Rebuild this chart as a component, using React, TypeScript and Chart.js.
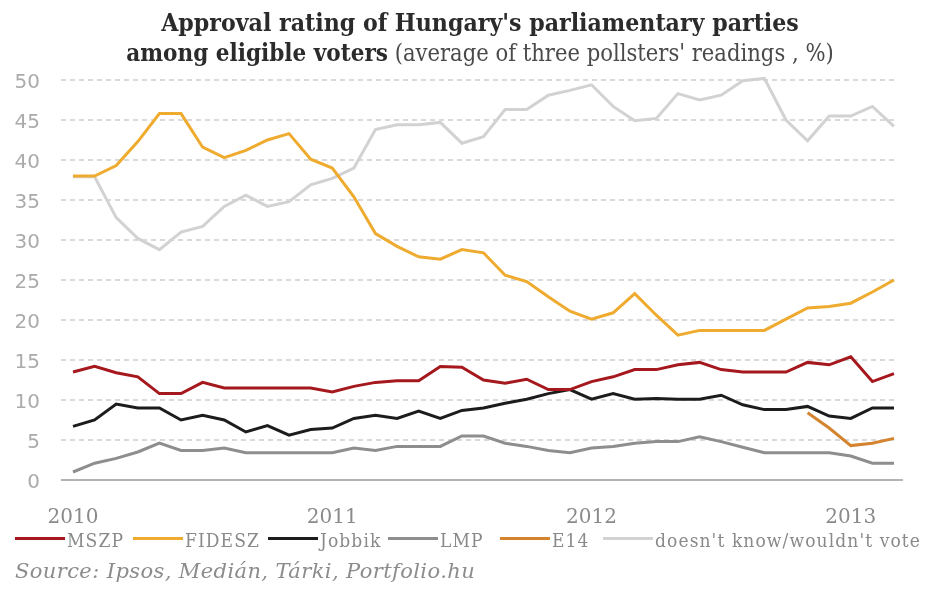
import React, { useEffect, useRef } from 'react';
import { Chart, registerables } from 'chart.js';

Chart.register(...registerables);

const months = [
  '2010-01', '2010-02', '2010-03', '2010-04', '2010-05', '2010-06', '2010-07', '2010-08', '2010-09', '2010-10', '2010-11', '2010-12',
  '2011-01', '2011-02', '2011-03', '2011-04', '2011-05', '2011-06', '2011-07', '2011-08', '2011-09', '2011-10', '2011-11', '2011-12',
  '2012-01', '2012-02', '2012-03', '2012-04', '2012-05', '2012-06', '2012-07', '2012-08', '2012-09', '2012-10', '2012-11', '2012-12',
  '2013-01', '2013-02', '2013-03',
];

const yearTickMonths = ['2010-01', '2011-01', '2012-01', '2013-01'];
const yearTickLabels = ['2010', '2011', '2012', '2013'];
const yTicks = [0, 5, 10, 15, 20, 25, 30, 35, 40, 45, 50];

const mszp = [
  13.5, 14.2, 13.4, 12.9, 10.8, 10.8, 12.2, 11.5, 11.5, 11.5, 11.5, 11.5,
  11.0, 11.7, 12.2, 12.4, 12.4, 14.2, 14.1, 12.5, 12.1, 12.6, 11.3, 11.3,
  12.3, 12.9, 13.8, 13.8, 14.4, 14.7, 13.8, 13.5, 13.5, 13.5, 14.7, 14.4,
  15.4, 12.3, 13.3,
];
const fidesz = [
  38.0, 38.0, 39.3, 42.3, 45.8, 45.8, 41.6, 40.3, 41.2, 42.5, 43.3, 40.1,
  39.0, 35.4, 30.8, 29.2, 27.9, 27.6, 28.8, 28.4, 25.6, 24.8, 22.9, 21.1,
  20.1, 20.9, 23.3, 20.6, 18.1, 18.7, 18.7, 18.7, 18.7, 20.1, 21.5, 21.7,
  22.1, 23.5, 25.0,
];
const jobbik = [
  6.7, 7.5, 9.5, 9.0, 9.0, 7.5, 8.1, 7.5, 6.0, 6.8, 5.6, 6.3,
  6.5, 7.7, 8.1, 7.7, 8.6, 7.7, 8.7, 9.0, 9.6, 10.1, 10.8, 11.3,
  10.1, 10.8, 10.1, 10.2, 10.1, 10.1, 10.6, 9.4, 8.8, 8.8, 9.2, 8.0,
  7.7, 9.0, 9.0,
];
const lmp = [
  1.0, 2.1, 2.7, 3.5, 4.6, 3.7, 3.7, 4.0, 3.4, 3.4, 3.4, 3.4,
  3.4, 4.0, 3.7, 4.2, 4.2, 4.2, 5.5, 5.5, 4.6, 4.2, 3.7, 3.4,
  4.0, 4.2, 4.6, 4.8, 4.8, 5.4, 4.8, 4.1, 3.4, 3.4, 3.4, 3.4,
  3.0, 2.1, 2.1,
];
const e14 = [
  null, null, null, null, null, null, null, null, null, null, null, null,
  null, null, null, null, null, null, null, null, null, null, null, null,
  null, null, null, null, null, null, null, null, null, null, 8.4, 6.5,
  4.3, 4.6, 5.2,
];
const dontKnow = [
  37.9, 37.9, 32.8, 30.2, 28.8, 31.0, 31.7, 34.2, 35.6, 34.2, 34.8, 36.9,
  37.7, 39.0, 43.8, 44.4, 44.4, 44.7, 42.1, 42.9, 46.3, 46.3, 48.1, 48.7,
  49.4, 46.7, 44.9, 45.2, 48.3, 47.5, 48.1, 49.9, 50.2, 45.0, 42.4, 45.5,
  45.5, 46.7, 44.2,
];

const seriesNames = ['MSZP', 'FIDESZ', 'Jobbik', 'LMP', 'E14', "doesn't know/wouldn't vote"];
const seriesValues = [mszp, fidesz, jobbik, lmp, e14, dontKnow];
const seriesColors = ['#a5181d', '#efab2f', '#1c1c1c', '#8e8e8e', '#d4842f', '#d2d2d2'];
const seriesOrder = [3, 2, 4, 5, 1, 6];

// layout: left edge of each legend entry, in pixels
const LEGEND_LEFTS = [15, 133, 268, 388, 500, 603];

const SERIF = '"DejaVu Serif Condensed", "DejaVu Serif", serif';
const SERIF_WIDE = '"DejaVu Serif", serif';

const gridPlugin = {
  id: 'customGrid',
  beforeDatasetsDraw(chart: any) {
    const { ctx, chartArea, scales } = chart;
    const y = scales.y;
    ctx.save();
    ctx.lineWidth = 1.5;
    ctx.strokeStyle = '#cdcdcd';
    ctx.setLineDash([5, 4]);
    for (const v of yTicks) {
      if (v === 0) continue;
      const py = Math.round(y.getPixelForValue(v));
      ctx.beginPath();
      ctx.moveTo(chartArea.left - 12, py);
      ctx.lineTo(chartArea.right + 4, py);
      ctx.stroke();
    }
    ctx.setLineDash([]);
    ctx.strokeStyle = '#9a9a9a';
    ctx.lineWidth = 1.5;
    const p0 = Math.round(y.getPixelForValue(0));
    ctx.beginPath();
    ctx.moveTo(chartArea.left - 12, p0);
    ctx.lineTo(chartArea.right + 9, p0);
    ctx.stroke();
    ctx.restore();
  },
};

function ChartCanvas() {
  const ref = useRef<HTMLCanvasElement | null>(null);
  useEffect(() => {
    if (!ref.current) return;
    const chart = new Chart(ref.current, {
      type: 'line',
      data: {
        labels: months,
        datasets: seriesNames.map((name, i) => ({
          label: name,
          data: seriesValues[i],
          borderColor: seriesColors[i],
          backgroundColor: seriesColors[i],
          borderWidth: 3,
          pointRadius: 0,
          pointHoverRadius: 0,
          tension: 0,
          fill: false,
          spanGaps: false,
          order: seriesOrder[i],
          clip: 6,
        })),
      },
      options: {
        animation: false,
        responsive: false,
        maintainAspectRatio: false,
        layout: { padding: { top: 80, right: 39, bottom: 60, left: 0 } },
        plugins: {
          legend: { display: false },
          tooltip: { enabled: false },
          title: { display: false },
        },
        scales: {
          x: {
            type: 'category',
            grid: { display: false, drawTicks: false },
            border: { display: false },
            ticks: {
              autoSkip: false,
              maxRotation: 0,
              minRotation: 0,
              padding: 26,
              color: '#8a8a8a',
              font: { family: SERIF_WIDE, size: 20 },
              callback: (_v: any, index: number) => {
                const k = yearTickMonths.indexOf(months[index]);
                return k >= 0 ? yearTickLabels[k] : '';
              },
            },
            afterFit: (scale: any) => {
              scale.height = 50;
            },
          },
          y: {
            min: 0,
            max: 50,
            grid: { display: false, drawTicks: false },
            border: { display: false },
            ticks: {
              stepSize: 5,
              padding: 33,
              labelOffset: 3,
              color: '#ababab',
              font: { family: '"DejaVu Sans", sans-serif', size: 20 },
            },
            afterFit: (scale: any) => {
              scale.width = 73;
            },
          },
        },
      },
      plugins: [gridPlugin],
    });
    return () => chart.destroy();
  }, []);
  return <canvas ref={ref} width={933} height={590} style={{ position: 'absolute', left: 0, top: 0 }} />;
}

export default function App() {
  return (
    <div style={{ position: 'absolute', left: 0, top: 0, width: 933, height: 590, background: '#fff', overflow: 'hidden' }}>
      <ChartCanvas />
      <div
        style={{
          position: 'absolute', left: 30, width: 900, top: 9, textAlign: 'center',
          fontFamily: SERIF, fontWeight: 'bold', fontSize: 24.6, lineHeight: '28px', color: '#2b2b2b', whiteSpace: 'nowrap',
        }}
      >
        Approval rating of Hungary's parliamentary parties
      </div>
      <div
        style={{
          position: 'absolute', left: 30, width: 900, top: 39, textAlign: 'center',
          fontFamily: SERIF, fontSize: 24, lineHeight: '28px', color: '#2b2b2b', whiteSpace: 'nowrap',
        }}
      >
        <span style={{ fontWeight: 'bold' }}>among eligible voters</span>
        <span style={{ fontSize: 23.5, color: '#4a4a4a' }}> (average of three pollsters' readings , %)</span>
      </div>
      {seriesNames.map((name, i) => (
        <div
          key={name}
          style={{
            position: 'absolute', left: LEGEND_LEFTS[i], top: 529, height: 22, display: 'flex', alignItems: 'center',
            fontFamily: SERIF, fontSize: 19, letterSpacing: 1.1, lineHeight: '22px', color: '#8a8a8a', whiteSpace: 'nowrap',
          }}
        >
          <span style={{ display: 'inline-block', width: 50, height: 3, background: seriesColors[i], marginTop: -3 }} />
          <span style={{ marginLeft: 2 }}>{name}</span>
        </div>
      ))}
      <div
        style={{
          position: 'absolute', left: 15, top: 560, fontFamily: SERIF_WIDE, fontStyle: 'italic', fontSize: 21,
          letterSpacing: 0.4, lineHeight: '22px', color: '#8c8c8c', whiteSpace: 'nowrap',
        }}
      >
        Source: Ipsos, Medián, Tárki, Portfolio.hu
      </div>
    </div>
  );
}
